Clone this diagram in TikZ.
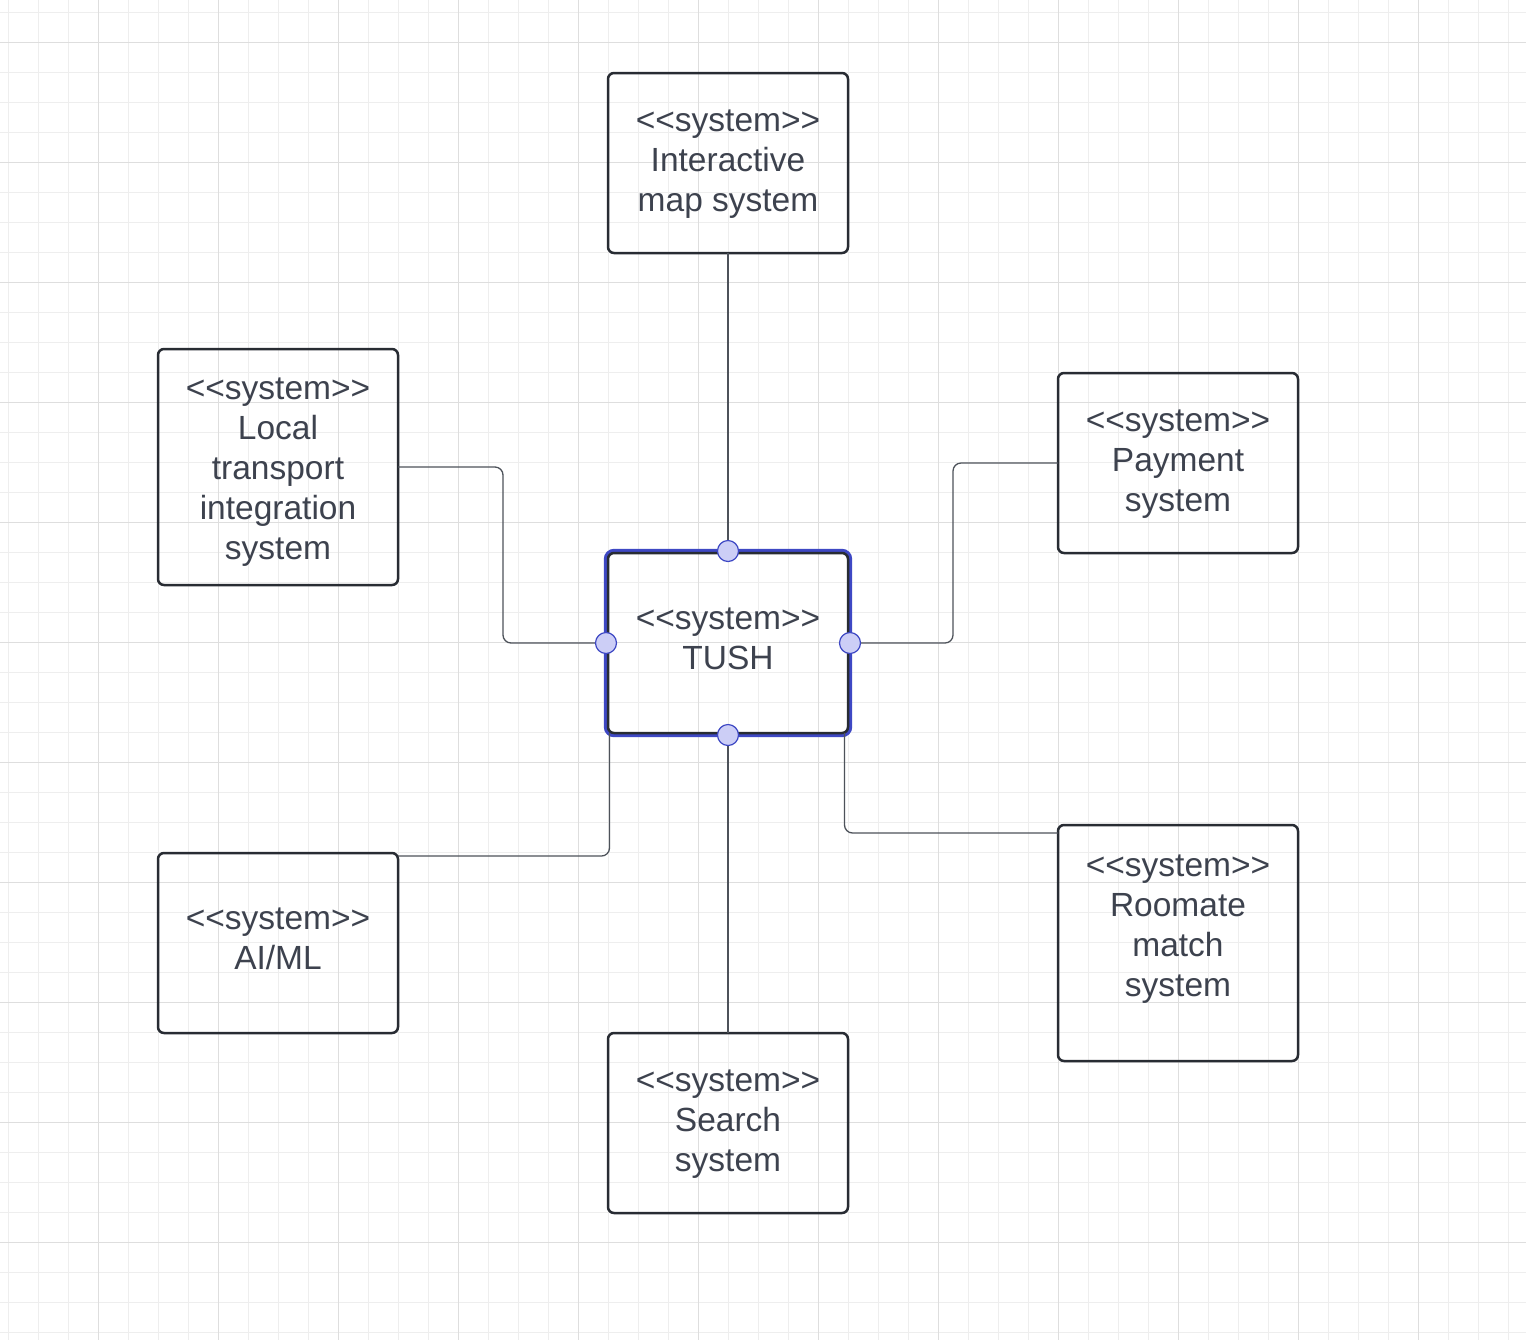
\documentclass[tikz,border=0pt]{standalone}
\usepackage{fontspec}
\newfontfamily\diagfont{Liberation Sans}
\usetikzlibrary{positioning}

\definecolor{boxline}{RGB}{40,44,51}
\definecolor{textgray}{RGB}{61,66,78}
\definecolor{connline}{RGB}{77,82,90}
\definecolor{selblue}{RGB}{62,72,196}
\definecolor{handlefill}{RGB}{204,206,246}
\definecolor{gridminor}{RGB}{238,238,238}
\definecolor{gridmajor}{RGB}{222,222,222}

\begin{document}
\begin{tikzpicture}[x=0.5pt, y=-0.5pt,
    sysbox/.style={draw=boxline, line width=1.25pt, rounded corners=3pt,
        minimum width=120pt, minimum height=90pt, inner sep=0pt, outer sep=0pt},
    systext/.style={text=textgray, align=center, inner sep=0pt,
        font=\diagfont\fontsize{16.75}{20}\selectfont},
    conn/.style={draw=connline, line width=0.65pt, rounded corners=4pt},
    handle/.style={circle, draw=selblue, fill=handlefill, line width=0.6pt,
        minimum size=10.5pt, inner sep=0pt}]

    \useasboundingbox (0,0) rectangle (1526,1340);
    \fill[white] (0,0) rectangle (1526,1340);

    % grid
    \foreach \gx in {8,38,...,1526}
        \draw[gridminor, line width=0.5pt] (\gx,0) -- (\gx,1340);
    \foreach \gy in {12,42,...,1340}
        \draw[gridminor, line width=0.5pt] (0,\gy) -- (1526,\gy);
    \foreach \gx in {98,218,...,1526}
        \draw[gridmajor, line width=0.5pt] (\gx,0) -- (\gx,1340);
    \foreach \gy in {42,162,...,1340}
        \draw[gridmajor, line width=0.5pt] (0,\gy) -- (1526,\gy);

    \node[sysbox] (map) at (728,163) {};
    \node[systext] (maptext) at (728,164) {<<system>>\\Interactive\\map system};

    \node[sysbox, minimum height=118pt] (local) at (278,467) {};
    \node[systext] (localtext) at (278,472) {<<system>>\\Local\\transport\\integration\\system};

    \node[sysbox] (pay) at (1178,463) {};
    \node[systext] (paytext) at (1178,464) {<<system>>\\Payment\\system};

    \node[draw=selblue, line width=2.2pt, rounded corners=4pt, inner sep=0pt, outer sep=0pt,
        minimum width=122pt, minimum height=92pt] (tushsel) at (728,643) {};
    \node[sysbox] (tush) at (728,643) {};
    \node[systext] (tushtext) at (728,639) {<<system>>\\TUSH};

    \node[sysbox] (aiml) at (278,943) {};
    \node[systext] (aimltext) at (278,939) {<<system>>\\AI/ML};

    \node[sysbox] (search) at (728,1123) {};
    \node[systext] (searchtext) at (728,1124) {<<system>>\\Search\\system};

    \node[sysbox, minimum height=118pt] (room) at (1178,943) {};
    \node[systext] (roomtext) at (1178,929) {<<system>>\\Roomate\\match\\system};

    % connectors
    \draw[conn] (map.south) -- (tushsel.north);
    \draw[conn] (local.east) -- ++(105,0) |- (tushsel.west);
    \draw[conn] (pay.west) -- ++(-105,0) |- (tushsel.east);
    \draw[conn] (tushsel.south) -- (search.north);
    \draw[conn] ([shift={(1.5,0)}]tush.south west) |- ([shift={(0,3)}]aiml.north east);
    \draw[conn] ([shift={(-3.5,0)}]tush.south east) |- ([shift={(0,8)}]room.north west);

    \node[handle] (hn) at (tushsel.north) {};
    \node[handle] (hw) at (tushsel.west) {};
    \node[handle] (he) at (tushsel.east) {};
    \node[handle] (hs) at (tushsel.south) {};
\end{tikzpicture}
\end{document}
